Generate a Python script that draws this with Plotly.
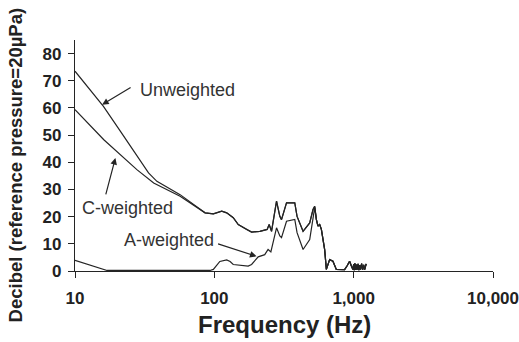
import plotly.graph_objects as go

# Frequency (Hz) / level (dB)
unw_f = [10, 16.0, 21.2, 27.9, 33.7, 38.7, 56.8, 85.8]
unw_db = [73.5, 60.6, 51.4, 42.2, 36.1, 33.0, 28.1, 21.4]

c_f = [10, 16.1, 27.8, 36.7, 56.8, 85.8]
c_db = [59.4, 48.3, 37.3, 32.4, 27.5, 21.4]

# shared upper curve (unweighted = C-weighted above ~90 Hz)
up_f = [98.4, 113, 122.7, 136.7, 148.5, 170.5, 185.1, 212.3, 239.4, 247.4, 257.4,
        279.5, 295.1, 303.5, 329.6, 377.8, 392.4, 433.3, 483.6, 510.7, 525.2,
        540.1, 554.5, 570.3, 586.5, 619.2, 636.8]
up_db = [21.0, 22.0, 21.4, 19.6, 17.1, 15.3, 14.3, 14.6, 15.3, 17.1, 14.6,
         25.7, 20.1, 18.9, 25.1, 25.1, 20.1, 14.6, 17.7, 22.6, 23.8,
         18.9, 16.5, 17.1, 15.3, 7.9, 0.6]

# high-frequency tail common to all curves
tail_f = [672.3, 690, 710, 750.7, 800, 861, 900, 934.8, 960, 987, 1000, 1010, 1020,
          1035, 1045, 1060, 1075, 1090, 1105, 1120, 1140, 1160, 1180, 1200, 1230]
tail_db = [4.2, 3.8, 3.6, 0.6, 0.5, 0.5, 2.0, 3.6, 2.0, 0.5, 2.5, 0.3, 2.8,
           0.4, 2.4, 0.5, 2.6, 0.3, 2.2, 0.5, 2.7, 0.4, 2.3, 0.5, 2.6]

a_f = [10, 17, 40, 93, 98.4, 109.5, 122.7, 129.8, 136.7, 174.8, 185.1, 206.5, 230,
       243.1, 254.5, 279.5, 295.1, 303.5, 329.6, 377.8, 392.4, 433.3, 483.6,
       510.7, 525.2, 540.1, 554.5, 570.3, 586.5, 619.2, 636.8]
a_db = [3.9, 0.2, 0.2, 0.2, 0.6, 3.5, 4.1, 3.5, 2.4, 1.8, 2.4, 5.2, 6.0,
        7.9, 7.0, 15.9, 12.9, 12.3, 18.3, 19.0, 14.1, 7.9, 11.6,
        20.1, 23.3, 18.9, 16.5, 17.1, 15.3, 7.9, 0.6]

x_tickvals = [10, 100, 1000, 10000]
x_ticktext = ["10", "100", "1,000", "10,000"]
y_tickvals = [0, 10, 20, 30, 40, 50, 60, 70, 80]

LINE = "#242424"
FONT = "Liberation Sans, Arial, sans-serif"

fig = go.Figure()
fig.add_trace(go.Scatter(x=unw_f + up_f + tail_f, y=unw_db + up_db + tail_db,
                         mode="lines", line=dict(color=LINE, width=1.2), name="Unweighted"))
fig.add_trace(go.Scatter(x=c_f + up_f + tail_f, y=c_db + up_db + tail_db,
                         mode="lines", line=dict(color=LINE, width=1.2), name="C-weighted"))
fig.add_trace(go.Scatter(x=a_f + tail_f, y=a_db + tail_db,
                         mode="lines", line=dict(color=LINE, width=1.2), name="A-weighted"))

ann_font = dict(family=FONT, size=18, color="#333333")
annotations = [
    dict(x=1.453, y=66.7, text="Unweighted", showarrow=False, xanchor="left", yanchor="middle", font=ann_font),
    dict(x=1.039, y=23.2, text="C-weighted", showarrow=False, xanchor="left", yanchor="middle", font=ann_font),
    dict(x=1.338, y=11.3, text="A-weighted", showarrow=False, xanchor="left", yanchor="middle", font=ann_font),
    dict(x=1.1945, y=61.2, ax=30, ay=-18, text="", showarrow=True, arrowhead=2, arrowsize=1.1,
         arrowwidth=1.2, arrowcolor=LINE),
    dict(x=1.290, y=41.6, ax=-10, ay=38, text="", showarrow=True, arrowhead=2, arrowsize=1.1,
         arrowwidth=1.2, arrowcolor=LINE),
    dict(x=2.303, y=5.4, ax=-40, ay=-13, text="", showarrow=True, arrowhead=2, arrowsize=1.1,
         arrowwidth=1.2, arrowcolor=LINE),
    dict(x=-0.142, y=0.46, xref="paper", yref="paper", text="Decibel (reference pressure=20\u00b5Pa)",
         textangle=-90, showarrow=False, xanchor="center", yanchor="middle",
         font=dict(family=FONT, size=18.5, color="#222222", weight="bold")),
    dict(x=0.5, y=-0.231, xref="paper", yref="paper", text="Frequency (Hz)",
         showarrow=False, xanchor="center", yanchor="middle",
         font=dict(family=FONT, size=24, color="#222222", weight="bold")),
]

fig.update_layout(
    width=519, height=342,
    margin=dict(l=74.5, r=25.7, t=40, b=70.5),
    paper_bgcolor="white", plot_bgcolor="white",
    showlegend=False,
    font=dict(family=FONT, color="#222222"),
    annotations=annotations,
    xaxis=dict(type="log", range=[1, 4], tickvals=x_tickvals, ticktext=x_ticktext,
               automargin=False,
               showline=True, linecolor=LINE, linewidth=1.2, ticks="outside", ticklen=6,
               tickcolor=LINE, showgrid=False, zeroline=False, ticklabelstandoff=5,
               tickfont=dict(family=FONT, size=17, color="#222222", weight="bold")),
    yaxis=dict(range=[0, 85], tickvals=y_tickvals, automargin=False,
               showline=True, linecolor=LINE, linewidth=1.2, ticks="outside", ticklen=6,
               tickcolor=LINE, showgrid=False, zeroline=False, ticklabelstandoff=3,
               tickfont=dict(family=FONT, size=17, color="#222222", weight="bold")),
)

# remove the default page margin so the figure fills the window exactly
fig.write_html("out.html", config={"displayModeBar": False},
               post_script="document.body.style.margin='0';document.body.style.overflow='hidden';")
